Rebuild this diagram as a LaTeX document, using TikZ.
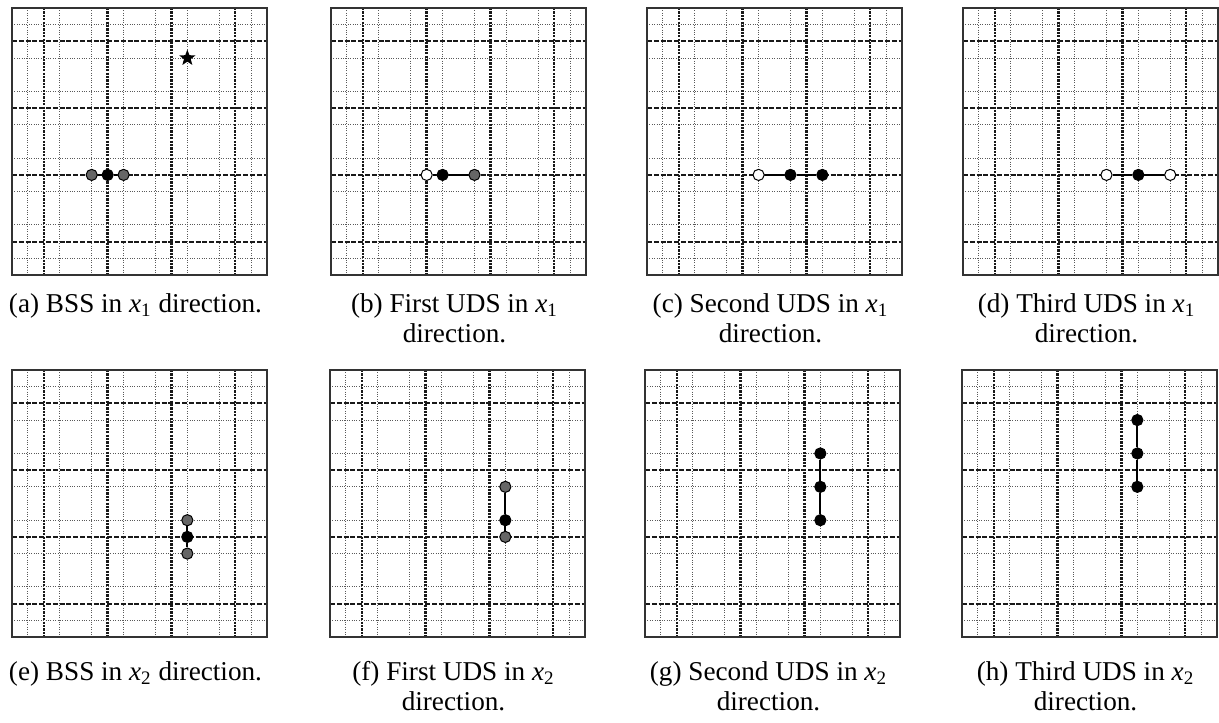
\documentclass[tikz,border=0pt]{standalone}
\usepackage{fontspec}
\setmainfont{Liberation Serif}
\usetikzlibrary{shapes.geometric}
\tikzset{
  fine/.style={black!65, line width=0.5pt, dash pattern=on 0.5pt off 0.7pt},
  coarseh/.style={black!90, line width=1pt, dash pattern=on 2.5pt off 0.9pt},
  coarsev/.style={black!90, line width=1.2pt, dash pattern=on 1.1pt off 0.6pt},
  frame/.style={draw=black!80, line width=1.1pt},
  dotpt/.style={circle, draw=black, line width=0.5pt, inner sep=0pt, minimum size=5.6pt},
  ptb/.style={dotpt, fill=black},
  ptg/.style={dotpt, fill=black!60},
  pto/.style={dotpt, fill=white},
  seg/.style={line width=1pt, black},
  starpt/.style={star, star points=5, star point ratio=2.4, fill=black, inner sep=0pt, minimum size=8.5pt},
  capline/.style={anchor=base, inner sep=0pt, font=\fontsize{13.6}{15}\selectfont},
}
\newcommand\gridpanel[2]{%
  \begin{scope}[shift={(#1,#2)}]
    \foreach \k in {1,3,...,15}{
      \draw[fine] (\k*15.94,0) -- (\k*15.94,267);
      \draw[fine] (0,\k*16.69) -- (255,\k*16.69);
    }
    \foreach \k in {2,6,10,14}{
      \draw[coarseh] (0,\k*16.69) -- (255,\k*16.69);
      \draw[coarsev] (\k*15.94,0) -- (\k*15.94,267);
    }
    \draw[frame] (0,0) rectangle (255,267);
  \end{scope}}
\begin{document}
\begin{tikzpicture}[x=0.5pt, y=-0.5pt]
\useasboundingbox (0,0) rectangle (1219,722);
\fill[white] (0,0) rectangle (1219,722);

% ---------- top row ----------
\gridpanel{12}{8}
\gridpanel{331}{8}
\gridpanel{647}{8}
\gridpanel{963}{8}
% ---------- bottom row ----------
\gridpanel{12}{370}
\gridpanel{330}{370}
\gridpanel{645}{370}
\gridpanel{962}{370}

% (a)
\begin{scope}[shift={(12,8)}]
  \node[ptg] (a1) at (5*15.94,10*16.69) {};
  \node[ptb] (a2) at (6*15.94,10*16.69) {};
  \node[ptg] (a3) at (7*15.94,10*16.69) {};
  \node[starpt] (astar) at (11*15.94,3*16.69) {};
\end{scope}
\draw[seg] (a1) -- (a2) -- (a3);

% (b)
\begin{scope}[shift={(331,8)}]
  \node[pto] (b1) at (6*15.94,10*16.69) {};
  \node[ptb] (b2) at (7*15.94,10*16.69) {};
  \node[ptg] (b3) at (9*15.94,10*16.69) {};
\end{scope}
\draw[seg] (b1) -- (b2) -- (b3);

% (c)
\begin{scope}[shift={(647,8)}]
  \node[pto] (c1) at (7*15.94,10*16.69) {};
  \node[ptb] (c2) at (9*15.94,10*16.69) {};
  \node[ptb] (c3) at (11*15.94,10*16.69) {};
\end{scope}
\draw[seg] (c1) -- (c2) -- (c3);

% (d)
\begin{scope}[shift={(963,8)}]
  \node[pto] (d1) at (9*15.94,10*16.69) {};
  \node[ptb] (d2) at (11*15.94,10*16.69) {};
  \node[pto] (d3) at (13*15.94,10*16.69) {};
\end{scope}
\draw[seg] (d1) -- (d2) -- (d3);

% (e)
\begin{scope}[shift={(12,370)}]
  \node[ptg] (e1) at (11*15.94,9*16.69) {};
  \node[ptb] (e2) at (11*15.94,10*16.69) {};
  \node[ptg] (e3) at (11*15.94,11*16.69) {};
\end{scope}
\draw[seg] (e1) -- (e2) -- (e3);

% (f)
\begin{scope}[shift={(330,370)}]
  \node[ptg] (f1) at (11*15.94,7*16.69) {};
  \node[ptb] (f2) at (11*15.94,9*16.69) {};
  \node[ptg] (f3) at (11*15.94,10*16.69) {};
\end{scope}
\draw[seg] (f1) -- (f2) -- (f3);

% (g)
\begin{scope}[shift={(645,370)}]
  \node[ptb] (g1) at (11*15.94,5*16.69) {};
  \node[ptb] (g2) at (11*15.94,7*16.69) {};
  \node[ptb] (g3) at (11*15.94,9*16.69) {};
\end{scope}
\draw[seg] (g1) -- (g2) -- (g3);

% (h)
\begin{scope}[shift={(962,370)}]
  \node[ptb] (h1) at (11*15.94,3*16.69) {};
  \node[ptb] (h2) at (11*15.94,5*16.69) {};
  \node[ptb] (h3) at (11*15.94,7*16.69) {};
\end{scope}
\draw[seg] (h1) -- (h2) -- (h3);

% captions
\node[capline] (capa) at (135.5,312) {(a) BSS in \textit{x}\textsubscript{1} direction.};
\node[capline] (capb1) at (454.5,312) {(b) First UDS in \textit{x}\textsubscript{1}};
\node[capline] (capb2) at (454.5,342) {direction.};
\node[capline] (capc1) at (770.5,312) {(c) Second UDS in \textit{x}\textsubscript{1}};
\node[capline] (capc2) at (770.5,342) {direction.};
\node[capline] (capd1) at (1086.5,312) {(d) Third UDS in \textit{x}\textsubscript{1}};
\node[capline] (capd2) at (1086.5,342) {direction.};

\node[capline] (cape) at (135.5,680) {(e) BSS in \textit{x}\textsubscript{2} direction.};
\node[capline] (capf1) at (453.5,680) {(f) First UDS in \textit{x}\textsubscript{2}};
\node[capline] (capf2) at (453.5,710) {direction.};
\node[capline] (capg1) at (768.5,680) {(g) Second UDS in \textit{x}\textsubscript{2}};
\node[capline] (capg2) at (768.5,710) {direction.};
\node[capline] (caph1) at (1085.5,680) {(h) Third UDS in \textit{x}\textsubscript{2}};
\node[capline] (caph2) at (1085.5,710) {direction.};
\end{tikzpicture}
\end{document}
